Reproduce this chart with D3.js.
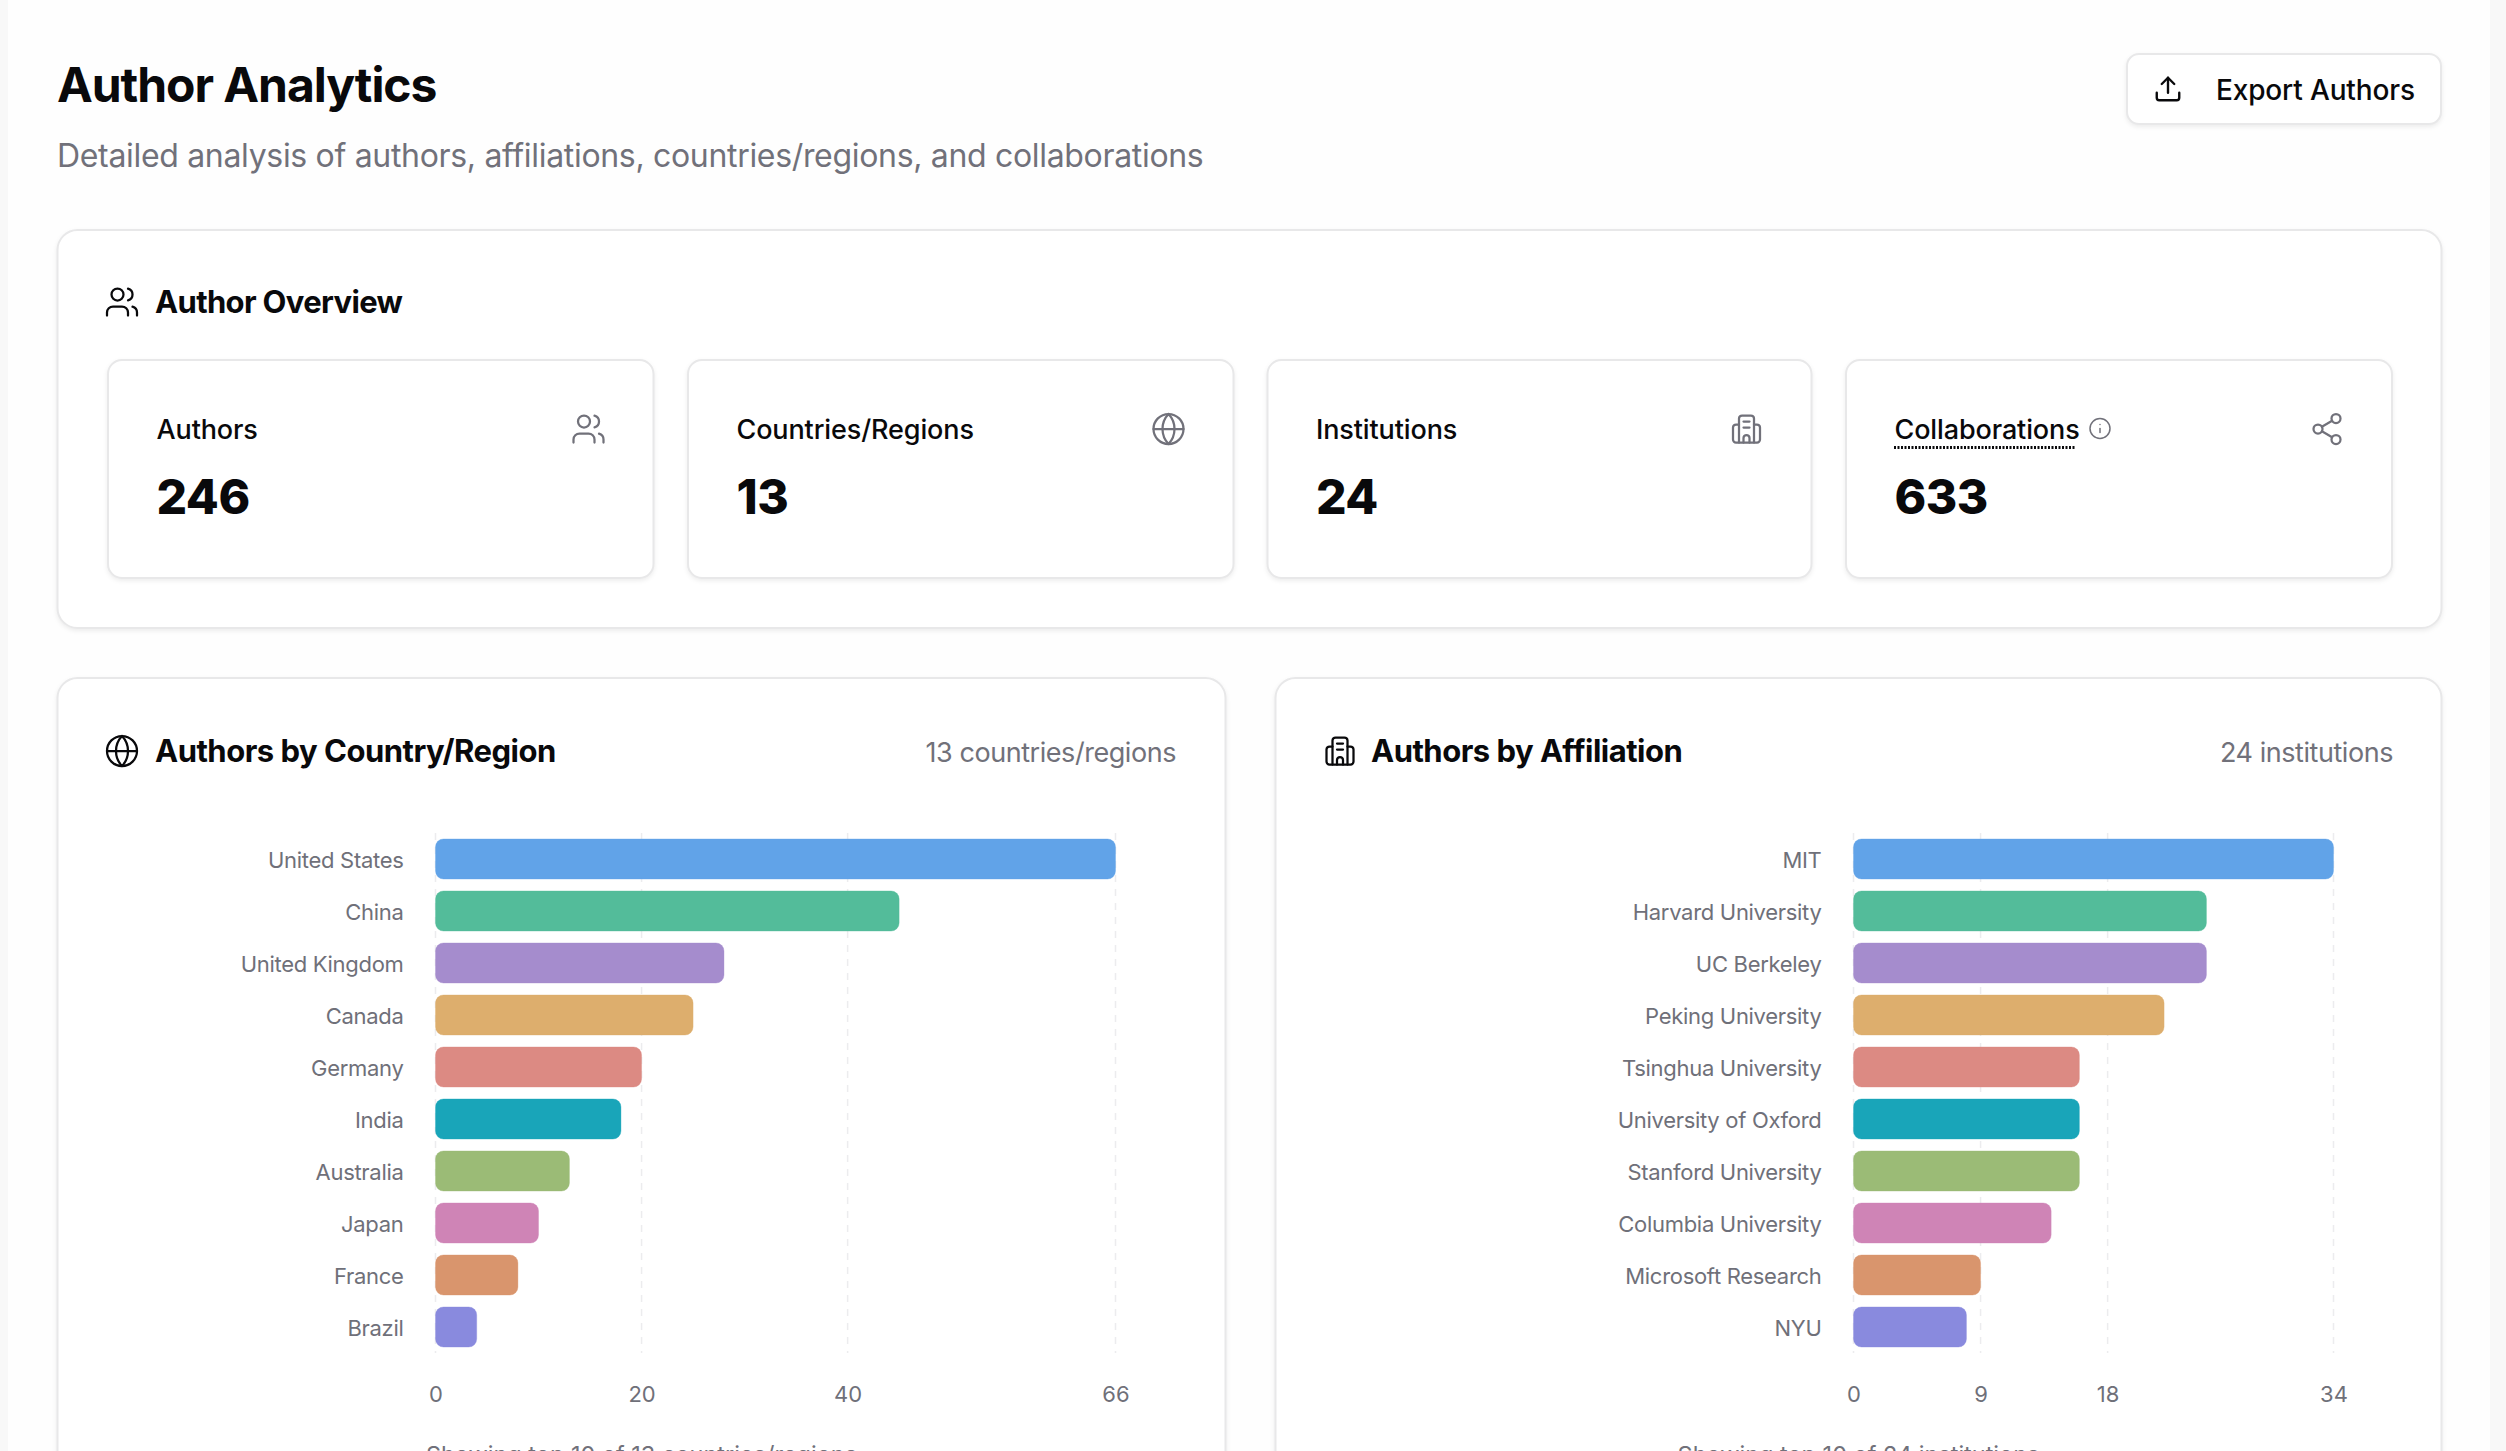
<!DOCTYPE html>
<html>
<head>
<meta charset="utf-8">
<title>Author Analytics</title>
<script src="https://cdnjs.cloudflare.com/ajax/libs/d3/7.8.5/d3.min.js"></script>
<style>
    html, body { margin: 0; padding: 0; background: #f8f8f8; overflow: hidden; }
    svg { display: block; font-family: Inter, "Noto Sans", sans-serif; }
    .card { fill: #fff; stroke: #e8e8e9; stroke-width: 2; filter: drop-shadow(0 2px 2px rgba(0, 0, 0, 0.07)); }
    .icon { fill: none; stroke-linecap: round; stroke-linejoin: round; }
    .axis text { font-family: Inter, "Noto Sans", sans-serif; font-size: 22px; fill: #6f7079; }
    .axis.names text { letter-spacing: -0.3px; transform: translateY(2px); }
    .axis .domain, .axis line { display: none; }
    .grid-line { stroke: #ececee; stroke-width: 1.5; stroke-dasharray: 7 7; }
</style>
</head>
<body>
<div id="dataChart"></div>
<script>
const statLabels = ['Authors', 'Countries/Regions', 'Institutions', 'Collaborations']
const statValues = [246, 13, 24, 633]

const countryNames = ['United States', 'China', 'United Kingdom', 'Canada', 'Germany', 'India', 'Australia', 'Japan', 'France', 'Brazil']
const countryCounts = [66, 45, 28, 25, 20, 18, 13, 10, 8, 4]
const countryTicks = [0, 20, 40, 66]

const affiliationNames = ['MIT', 'Harvard University', 'UC Berkeley', 'Peking University', 'Tsinghua University', 'University of Oxford', 'Stanford University', 'Columbia University', 'Microsoft Research', 'NYU']
const affiliationCounts = [34, 25, 25, 22, 16, 16, 16, 14, 9, 8]
const affiliationTicks = [0, 9, 18, 34]

const barColours = ['#61a3e8', '#53bc9a', '#a58ccd', '#ddae6d', '#dc8a83', '#19a5b9', '#9bbb76', '#cf84b6', '#d9956d', '#898ade']

const icons = {
    users: ['M16 21v-2a4 4 0 0 0-4-4H6a4 4 0 0 0-4 4v2', 'M9 3a4 4 0 1 0 0 8a4 4 0 1 0 0-8', 'M22 21v-2a4 4 0 0 0-3-3.87', 'M16 3.13a4 4 0 0 1 0 7.75'],
    globe: ['M12 2a10 10 0 1 0 0 20a10 10 0 1 0 0-20', 'M12 2a14.5 14.5 0 0 0 0 20a14.5 14.5 0 0 0 0-20', 'M2 12h20'],
    building: ['M7 21V5a2 2 0 0 1 2-2h6a2 2 0 0 1 2 2v16', 'M7 9H5a2 2 0 0 0-2 2v8a2 2 0 0 0 2 2h14a2 2 0 0 0 2-2v-8a2 2 0 0 0-2-2h-2', 'M10 7h4', 'M10 11h4', 'M10 21v-3a2 2 0 0 1 4 0v3'],
    share: ['M18 2a3 3 0 1 0 0 6a3 3 0 1 0 0-6', 'M6 9a3 3 0 1 0 0 6a3 3 0 1 0 0-6', 'M18 16a3 3 0 1 0 0 6a3 3 0 1 0 0-6', 'M8.59 13.51l6.83 3.98', 'M15.41 6.51l-6.82 3.98'],
    info: ['M12 2a10 10 0 1 0 0 20a10 10 0 1 0 0-20', 'M12 16v-4', 'M12 8h.01'],
    upload: ['M3 15v4a2 2 0 0 0 2 2h14a2 2 0 0 0 2-2v-4', 'M12 15V3', 'M7 8l5-5l5 5'],
}

const svg = d3.select('#dataChart')
    .append('svg')
    .attr('width', 2506)
    .attr('height', 1451)
    .attr('viewBox', [0, 0, 2506, 1451])

svg.append('rect')
    .attr('x', 8).attr('y', -5)
    .attr('width', 2482).attr('height', 1470)
    .attr('fill', '#fefefe')

function addCard(x, y, width, height, radius) {
    svg.append('rect')
        .attr('class', 'card')
        .attr('x', x).attr('y', y)
        .attr('width', width).attr('height', height)
        .attr('rx', radius)
}

function addText(x, y, label, size, weight, colour, spacing, anchor) {
    return svg.append('text')
        .attr('x', x).attr('y', y)
        .attr('font-size', size)
        .attr('font-weight', weight)
        .attr('fill', colour)
        .attr('letter-spacing', spacing)
        .attr('text-anchor', anchor || 'start')
        .text(label)
}

// cx, cy is the middle of the 24 unit icon box
function addIcon(name, cx, cy, scale, colour, strokeWidth) {
    svg.append('g')
        .attr('class', 'icon')
        .attr('transform', `translate(${cx - 12 * scale}, ${cy - 12 * scale}) scale(${scale})`)
        .attr('stroke', colour)
        .attr('stroke-width', strokeWidth)
        .selectAll('path')
        .data(icons[name])
        .enter()
        .append('path')
        .attr('d', d => d)
}

// Header
addText(57, 102, 'Author Analytics', 48, 700, '#09090b', -1.05)
addText(57, 167, 'Detailed analysis of authors, affiliations, countries/regions, and collaborations', 32, 400, '#71717a', -0.32)

addCard(2127, 54, 314, 70, 12)
addIcon('upload', 2168, 89, 1.25, '#09090b', 1.9)
addText(2216, 100, 'Export Authors', 28, 500, '#09090b', -0.15)

// Overview
addCard(57.5, 230, 2384, 398, 20)
addIcon('users', 122, 302, 1.5, '#09090b', 1.5)
addText(155, 313, 'Author Overview', 31, 700, '#09090b', -0.65)

const statCardX = [108, 688, 1267.5, 1846]
const statCardWidth = [545.5, 545.5, 544, 546]
const statIcons = ['users', 'globe', 'building', 'share']
statLabels.forEach((label, i) => {
    const x = statCardX[i]
    addCard(x, 360, statCardWidth[i], 218, 14)
    addText(x + 48.5, 439, label, 27, 500, '#09090b', -0.12)
    addText(x + 48.5, 513.5, statValues[i], 48, 800, '#09090b', -0.5)
    addIcon(statIcons[i], x + statCardWidth[i] - 65, 429, 1.5, '#71717a', 1.5)
})
svg.append('line')
    .attr('x1', 1894).attr('x2', 2076)
    .attr('y1', 447.5).attr('y2', 447.5)
    .attr('stroke', '#09090b')
    .attr('stroke-width', 3)
    .attr('stroke-dasharray', '2 1.5')
addIcon('info', 2100, 428.5, 1, '#71717a', 1.5)

// Bar charts
function addBarChart({ cardX, cardWidth, iconX, titleX, title, note, noteX, footer, names, counts, ticks, x0, x1 }) {
    addCard(cardX, 678, cardWidth, 900, 20)
    addIcon(iconX.name, iconX.cx, 751, 1.5, '#09090b', 1.5)
    addText(titleX, 762, title, 31, 700, '#09090b', -0.5)
    addText(noteX, 762, note, 27, 400, '#71717a', -0.45, 'end')

    const xScale = d3.scaleLinear()
        .domain([0, d3.max(counts)])
        .range([x0, x1])
    const yScale = d3.scaleBand()
        .domain(names)
        .range([833, 1353])
        .paddingInner(0.23)
        .paddingOuter(0.115)

    svg.append('g')
        .selectAll('line')
        .data(ticks)
        .enter()
        .append('line')
        .attr('class', 'grid-line')
        .attr('x1', d => xScale(d))
        .attr('x2', d => xScale(d))
        .attr('y1', 833)
        .attr('y2', 1353)

    svg.append('g')
        .selectAll('rect')
        .data(names)
        .enter()
        .append('rect')
        .attr('x', x0)
        .attr('y', d => yScale(d))
        .attr('width', (d, i) => xScale(counts[i]) - x0)
        .attr('height', yScale.bandwidth())
        .attr('rx', 8)
        .attr('fill', (d, i) => barColours[i])
        .attr('stroke', (d, i) => barColours[i])
        .attr('stroke-opacity', 0.35)
        .attr('stroke-width', 1)

    svg.append('g')
        .attr('class', 'axis names')
        .attr('transform', `translate(${x0}, 0)`)
        .call(d3.axisLeft(yScale).tickSize(0).tickPadding(32))

    svg.append('g')
        .attr('class', 'axis')
        .attr('transform', 'translate(0, 1353)')
        .call(d3.axisBottom(xScale).tickValues(ticks).tickSize(0).tickPadding(33))

    addText(cardX + cardWidth / 2, 1463, footer, 23.5, 400, '#71717a', 0, 'middle')
}

addBarChart({
    cardX: 57.5, cardWidth: 1168,
    iconX: { name: 'globe', cx: 122 },
    titleX: 155,
    title: 'Authors by Country/Region',
    note: '13 countries/regions',
    noteX: 1176,
    footer: 'Showing top 10 of 13 countries/regions',
    names: countryNames,
    counts: countryCounts,
    ticks: countryTicks,
    x0: 435.5, x1: 1115.5,
})
addBarChart({
    cardX: 1275.5, cardWidth: 1166,
    iconX: { name: 'building', cx: 1340 },
    titleX: 1371,
    title: 'Authors by Affiliation',
    note: '24 institutions',
    noteX: 2393,
    footer: 'Showing top 10 of 24 institutions',
    names: affiliationNames,
    counts: affiliationCounts,
    ticks: affiliationTicks,
    x0: 1853.5, x1: 2333.5,
})
</script>
</body>
</html>
